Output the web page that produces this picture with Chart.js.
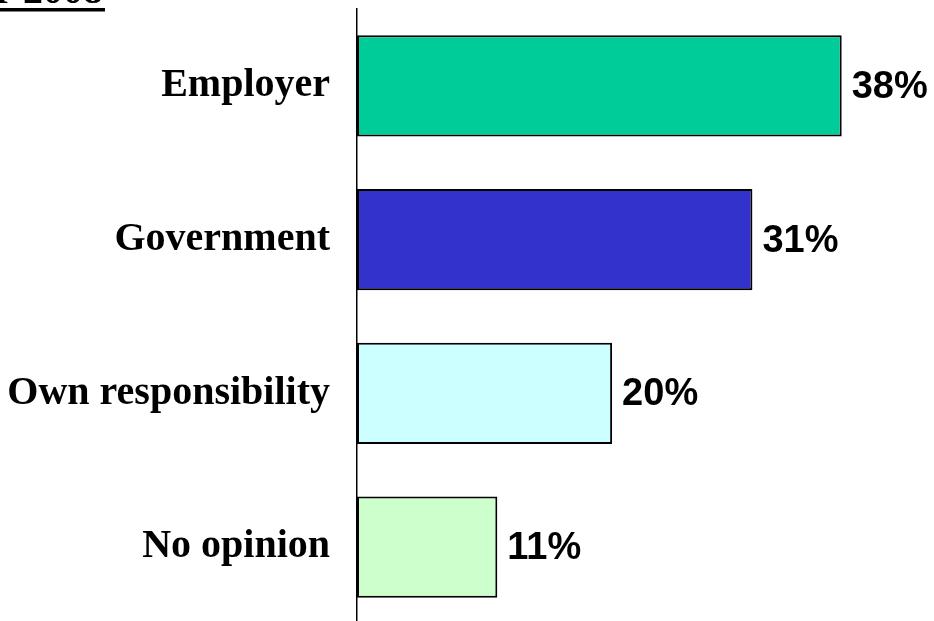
<!DOCTYPE html>
<html>
<head>
<meta charset="utf-8">
<script src="https://cdn.jsdelivr.net/npm/chart.js@4.4.1/dist/chart.umd.min.js"></script>
<style>
  html, body { margin: 0; padding: 0; background: #fff; overflow: hidden; }
  #wrap { position: absolute; left: 0; top: 0; width: 934px; height: 630px; }
</style>
</head>
<body>
<div id="wrap"><canvas id="chart"></canvas></div>
<script>
// Who should be responsible — share of answers
const categories = ['Employer', 'Government', 'Own responsibility', 'No opinion'];
const shares = [38, 31, 20, 11];
const barColors = ['#00CC99', '#3333CC', '#CCFFFF', '#CCFFCC'];
const headingText = 'r 2008';

// Percent labels just past the end of each bar
const valueLabels = {
  id: 'valueLabels',
  afterDatasetsDraw(chart) {
    const ctx = chart.ctx;
    const meta = chart.getDatasetMeta(0);
    ctx.save();
    ctx.font = 'bold 38px "Liberation Sans", Arial, sans-serif';
    ctx.fillStyle = '#000';
    ctx.textAlign = 'left';
    ctx.textBaseline = 'alphabetic';
    meta.data.forEach((bar, i) => {
      ctx.fillText(shares[i] + '%', bar.x + 10, bar.y + 12);
    });
    ctx.restore();
  }
};

// Underlined heading in the top-left corner
const heading = {
  id: 'heading',
  afterDraw(chart) {
    const ctx = chart.ctx;
    ctx.save();
    ctx.font = 'bold 40px "Liberation Serif", "Times New Roman", serif';
    ctx.fillStyle = '#000';
    ctx.textAlign = 'right';
    ctx.textBaseline = 'alphabetic';
    ctx.fillText(headingText, 103, 3);
    ctx.fillRect(0, 8, 105, 3.5);
    ctx.restore();
  }
};

new Chart(document.getElementById('chart'), {
  type: 'bar',
  data: {
    labels: categories,
    datasets: [{
      data: shares,
      backgroundColor: barColors,
      borderColor: '#000',
      borderWidth: 2,
      borderSkipped: false,
      barPercentage: 0.66,
      categoryPercentage: 1
    }]
  },
  options: {
    indexAxis: 'y',
    responsive: true,
    maintainAspectRatio: false,
    animation: false,
    layout: { padding: { top: 9, bottom: 6, left: 0, right: 3 } },
    plugins: {
      legend: { display: false },
      tooltip: { enabled: false }
    },
    scales: {
      x: {
        display: false,
        min: 0,
        max: 45
      },
      y: {
        afterFit(scale) {
          scale.width = 357;
          scale.paddingTop = 0;
          scale.paddingBottom = 0;
        },
        grid: { display: false, drawTicks: false },
        border: { display: true, color: '#000', width: 1.5 },
        ticks: {
          padding: 27,
          color: '#000',
          font: { family: '"Liberation Serif", "Times New Roman", serif', size: 40, weight: 'bold' }
        }
      }
    }
  },
  plugins: [valueLabels, heading]
});
</script>
</body>
</html>
